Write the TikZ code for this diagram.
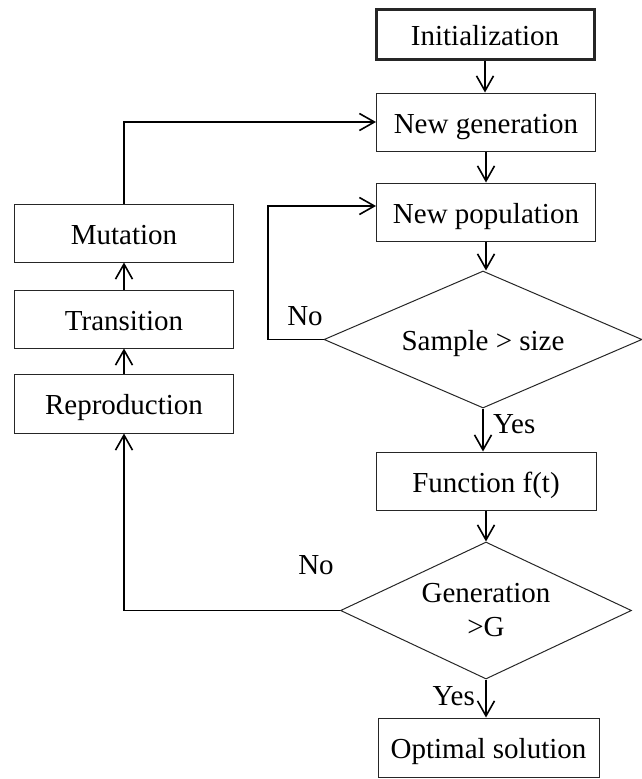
\documentclass[tikz,border=0pt]{standalone}
\usepackage{fontspec}
\setmainfont{Liberation Serif}
\usetikzlibrary{shapes.geometric,arrows.meta}
\begin{document}
\begin{tikzpicture}[x=1pt,y=-1pt,
  txt/.style={font=\fontsize{29}{34}\selectfont},
  box/.style={txt,draw=black!85,line width=1pt,rectangle,minimum width=219pt,minimum height=58pt,inner sep=0pt,text height=22pt,text depth=0pt},
  dec/.style={txt,draw=black!85,line width=1pt,diamond,inner sep=0pt,align=center},
  arr/.style={line width=1.6pt,-{Straight Barb[length=15pt,width=17pt,line width=1.6pt]}},
  lbl/.style={txt,inner sep=0pt}]
\useasboundingbox (0,0) rectangle (641,779);
\node[box,line width=3pt,minimum width=218pt,minimum height=50pt] (init) at (485,34) {Initialization};
\node[box] (ng) at (486,122) {New generation};
\node[box] (np) at (486,212) {New population};
\node[dec,aspect=2.32,minimum width=318pt,minimum height=137pt,text height=22pt,text depth=0pt] (d1) at (483,339.5) {Sample > size};
\node[box,minimum width=220pt] (fn) at (486,481) {Function f(t)};
\node[dec,aspect=2.12,minimum width=291pt,minimum height=137pt] (d2) at (486,610.5) {Generation\\>G};
\node[box,minimum width=221pt,minimum height=59pt] (opt) at (488.5,747.5) {Optimal solution};
\node[box] (mut) at (124,233) {Mutation};
\node[box] (tr) at (124,319) {Transition};
\node[box,minimum height=59pt] (rep) at (124,403.5) {Reproduction};
\coordinate (k1) at (268,206);
% main column
\draw[arr] (init.south) -- (init.south |- ng.north);
\draw[arr] (ng.south) -- (ng.south |- np.north);
\draw[arr] (np.south) -- (np.south |- d1.north);
\draw[arr] (d1.south) -- (d1.south |- fn.north);
\draw[arr] (fn.south) -- (fn.south |- d2.north);
\draw[arr] (d2.south) -- (d2.south |- opt.north);
% loops
\draw[arr] (d1.west) -| (k1) -- (k1 -| np.west);
\draw[arr] (d2.west) -| (rep.south);
\draw[arr] (rep.north) -- (tr.south);
\draw[arr] (tr.north) -- (mut.south);
\draw[arr] (mut.north) |- (ng.west);
% labels
\node[lbl,anchor=base] (no1) at (305,325) {No};
\node[lbl,anchor=base west] (yes1) at (493,433) {Yes};
\node[lbl,anchor=base] (no2) at (316,574) {No};
\node[lbl,anchor=base east] (yes2) at (475,705) {Yes};
\end{tikzpicture}
\end{document}
